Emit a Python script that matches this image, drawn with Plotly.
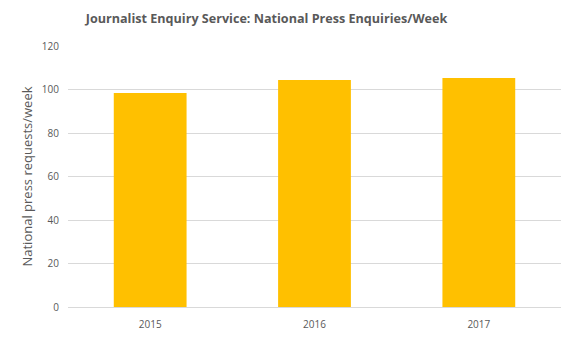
import plotly.graph_objects as go

years = ["2015", "2016", "2017"]
enquiries_per_week = [98.4, 104.4, 105.3]
y_ticks = [0, 20, 40, 60, 80, 100, 120]

fig = go.Figure(
    go.Bar(
        x=years,
        y=enquiries_per_week,
        marker=dict(color="#FFC000", line=dict(width=0)),
        hoverinfo="x+y",
    )
)

fig.update_layout(
    width=576,
    height=338,
    margin=dict(l=68, r=15, t=46, b=31),
    paper_bgcolor="white",
    plot_bgcolor="white",
    bargap=0.557,
    showlegend=False,
    title=dict(
        text="<b>Journalist Enquiry Service: National Press Enquiries/Week</b>",
        x=266.5 / 576,
        xanchor="center",
        y=1 - 19 / 338,
        yanchor="middle",
        font=dict(family="Open Sans", size=12.6, color="#595959"),
    ),
    font=dict(family="Open Sans", color="#595959"),
)

fig.update_xaxes(
    automargin=False,
    showgrid=False,
    showline=True,
    linecolor="#D9D9D9",
    linewidth=1,
    ticks="",
    ticklabelstandoff=8,
    tickfont=dict(size=10, color="#595959"),
)

fig.update_yaxes(
    automargin=False,
    range=[0, 120],
    tickvals=y_ticks,
    showgrid=True,
    gridcolor="#D9D9D9",
    gridwidth=1,
    zeroline=False,
    showline=False,
    ticks="",
    ticklabelstandoff=8,
    tickfont=dict(size=10, color="#595959"),
    title=dict(
        text="National press requests/week",
        font=dict(size=13, color="#595959"),
        standoff=6,
    ),
)

fig.write_html("out.html")
